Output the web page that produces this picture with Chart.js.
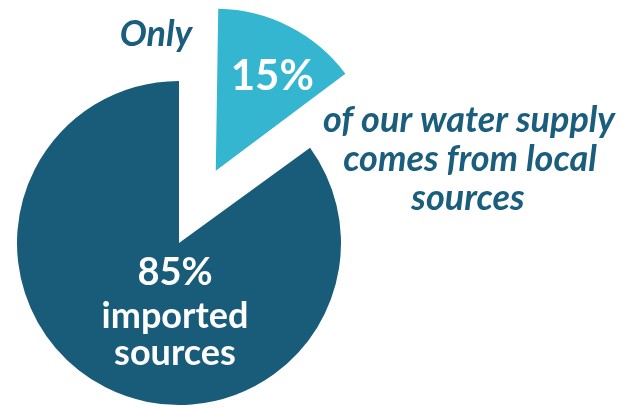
<!DOCTYPE html>
<html>
<head>
<meta charset="utf-8">
<script src="https://cdn.jsdelivr.net/npm/chart.js@4"></script>
<style>
  html, body { margin: 0; padding: 0; background: #fff; overflow: hidden; }
  #wrap { width: 624px; height: 408px; position: relative; }
</style>
</head>
<body>
<div id="wrap"><canvas id="chart" width="624" height="408"></canvas></div>
<script>
// water supply split — local vs imported
const categories = ['local sources', 'imported sources'];
const shares = [15, 85];
const sliceColors = ['#35b6d0', '#185c7a'];
const sliceOffsets = [324, 0];   // arc offset (chart.js draws offset/4)

const labelFont = 'Lato, "Open Sans", sans-serif';
const textBlue = '#1a5d7c';

// chart.js grows an offset arc's radius a bit; pull it back so both slices match
const sameRadius = {
  id: 'sameRadius',
  beforeDatasetsDraw(chart) {
    const arcs = chart.getDatasetMeta(0).data;
    const base = chart.getDatasetMeta(0).controller.outerRadius;
    arcs.forEach(a => {
      const off = (a.options.offset || 0) / 4;
      const fix = 1 - Math.sin(Math.min(Math.PI, a.circumference));
      a.outerRadius = base - off * fix;
    });
  }
};

// text drawn on top of the pie
const labelsPlugin = {
  id: 'pieText',
  afterDatasetsDraw(chart) {
    const ctx = chart.ctx;
    const arcs = chart.getDatasetMeta(0).data;
    const local = arcs[0], imported = arcs[1];
    const r = chart.getDatasetMeta(0).controller.outerRadius;
    ctx.save();
    ctx.textAlign = 'center';
    ctx.textBaseline = 'alphabetic';

    // 15% inside the pulled out slice
    const mid = (local.startAngle + local.endAngle) / 2;
    const shift = (local.options.offset || 0) / 4;
    const vx = local.x + Math.cos(mid) * shift;
    const vy = local.y + Math.sin(mid) * shift;
    const lx = vx + Math.cos(mid) * r * 0.7 + 5;
    const ly = vy + Math.sin(mid) * r * 0.7 + 20;
    ctx.fillStyle = '#fff';
    ctx.font = 'bold 42px ' + labelFont;
    ctx.fillText(shares[0] + '%', lx, ly);

    // 85% block in the big slice
    const cx = imported.x - 4, cy = imported.y;
    ctx.font = 'bold 38px ' + labelFont;
    ctx.fillText(shares[1] + '%', cx, cy + 42);
    ctx.font = 'bold 36px ' + labelFont;
    ctx.fillText('imported', cx, cy + 85);
    ctx.fillText('sources', cx, cy + 122);

    // side annotation
    ctx.fillStyle = textBlue;
    ctx.font = 'italic bold 36px ' + labelFont;
    ctx.fillText('Only', 156, 46);
    ctx.fillText('of our water supply', 469, 132);
    ctx.fillText('comes from local', 470, 171);
    ctx.fillText('sources', 468, 210);
    ctx.restore();
  }
};

new Chart(document.getElementById('chart'), {
  type: 'pie',
  data: {
    labels: categories,
    datasets: [{
      data: shares,
      backgroundColor: sliceColors,
      offset: sliceOffsets,
      borderWidth: 0,
      hoverOffset: 0,
      clip: false
    }]
  },
  options: {
    responsive: false,
    animation: false,
    radius: 162,
    layout: { padding: { left: 0, right: 266, top: 78, bottom: 0 } },
    events: [],
    plugins: {
      legend: { display: false },
      tooltip: { enabled: false }
    }
  },
  plugins: [sameRadius, labelsPlugin]
});
</script>
</body>
</html>
